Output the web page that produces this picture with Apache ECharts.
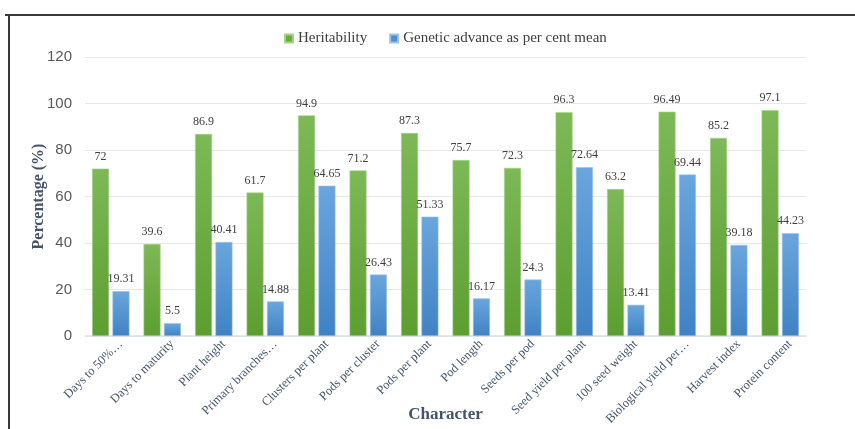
<!DOCTYPE html>
<html>
<head>
<meta charset="utf-8">
<script src="https://cdn.jsdelivr.net/npm/echarts@6/dist/echarts.min.js"></script>
<style>
  html, body { margin: 0; padding: 0; background: #fff; }
  #chart { width: 855px; height: 429px; }
</style>
</head>
<body>
<div id="chart"></div>
<script>
// Character names as printed under the bars
var categories = [
  'Days to 50%…', 'Days to maturity', 'Plant height', 'Primary branches…',
  'Clusters per plant', 'Pods per cluster', 'Pods per plant', 'Pod length',
  'Seeds per pod', 'Seed yield per plant', '100 seed weight',
  'Biological yield per…', 'Harvest index', 'Protein content'
];
// Heritability (%)
var heritability = [72, 39.6, 86.9, 61.7, 94.9, 71.2, 87.3, 75.7, 72.3, 96.3, 63.2, 96.49, 85.2, 97.1];
// Genetic advance as per cent of mean (%)
var geneticAdvance = [19.31, 5.5, 40.41, 14.88, 64.65, 26.43, 51.33, 16.17, 24.3, 72.64, 13.41, 69.44, 39.18, 44.23];
// Value axis ticks
var yTicks = [0, 20, 40, 60, 80, 100, 120];

var serif = '"Liberation Serif", "Times New Roman", serif';
var sans = '"Liberation Sans", "Open Sans", sans-serif';

function grad(top, bottom) {
  return new echarts.graphic.LinearGradient(0, 0, 0, 1, [
    { offset: 0, color: top }, { offset: 1, color: bottom }
  ]);
}

var chart = echarts.init(document.getElementById('chart'));
chart.setOption({
  animation: false,
  backgroundColor: '#fff',
  graphic: [
    { type: 'line', shape: { x1: 5, y1: 15, x2: 855, y2: 15 }, style: { stroke: '#3a3a3a', lineWidth: 2 } },
    { type: 'line', shape: { x1: 9, y1: 15, x2: 9, y2: 429 }, style: { stroke: '#3a3a3a', lineWidth: 2 } }
  ],
  legend: {
    top: 26,
    left: 279,
    itemWidth: 8,
    itemHeight: 8,
    itemGap: 22,
    icon: 'rect',
    textStyle: { fontFamily: serif, fontSize: 15, color: '#404040' },
    data: [
      { name: 'Heritability', itemStyle: { color: '#6aae3a' } },
      { name: 'Genetic advance as per cent mean', itemStyle: { color: '#4a8fd2' } }
    ]
  },
  grid: { left: 85, right: 49, top: 57, bottom: 93, containLabel: false, outerBoundsMode: 'none' },
  xAxis: {
    type: 'category',
    data: categories,
    name: 'Character',
    nameLocation: 'middle',
    nameGap: 70,
    nameMoveOverlap: false,
    nameTextStyle: { fontFamily: serif, fontSize: 17, fontWeight: 'bold', color: '#44546a' },
    axisLine: { lineStyle: { color: '#d9e1ec', width: 1.5 } },
    axisTick: { show: false },
    axisLabel: {
      rotate: 45,
      interval: 0,
      margin: 16,
      padding: [0, -14, 0, 0],
      fontFamily: serif,
      fontSize: 12.5,
      color: '#44546a'
    }
  },
  yAxis: {
    type: 'value',
    min: yTicks[0],
    max: yTicks[yTicks.length - 1],
    interval: 20,
    name: 'Percentage (%)',
    nameLocation: 'middle',
    nameGap: 38,
    nameMoveOverlap: false,
    nameTextStyle: { fontFamily: serif, fontSize: 16, fontWeight: 'bold', color: '#44546a' },
    axisLine: { show: false },
    axisTick: { show: false },
    axisLabel: { fontFamily: sans, fontSize: 15, color: '#595959', margin: 13 },
    splitLine: { lineStyle: { color: '#e8e8e8', width: 1 } }
  },
  series: [
    {
      name: 'Heritability',
      type: 'bar',
      data: heritability,
      barWidth: 17,
      barGap: '20%',
      itemStyle: { color: grad('#7db957', '#5c9e30'), borderColor: '#a9d18e', borderWidth: 0.6 },
      label: { show: true, position: 'top', distance: 6, fontFamily: serif, fontSize: 12, color: '#404040' }
    },
    {
      name: 'Genetic advance as per cent mean',
      type: 'bar',
      data: geneticAdvance,
      barWidth: 17,
      itemStyle: { color: grad('#6aa6dd', '#3f82c4'), borderColor: '#9dc3e6', borderWidth: 0.6 },
      label: { show: true, position: 'top', distance: 6, fontFamily: serif, fontSize: 12, color: '#404040' }
    }
  ]
});
</script>
</body>
</html>
